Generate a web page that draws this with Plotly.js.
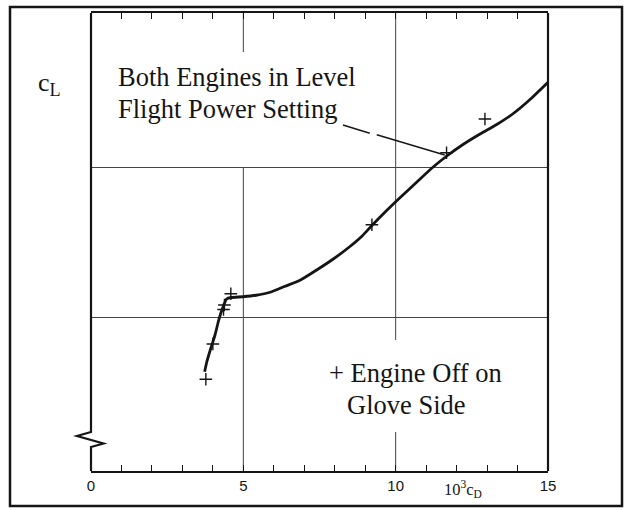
<!DOCTYPE html>
<html>
<head>
<meta charset="utf-8">
<script src="https://cdn.plot.ly/plotly-3.0.1.min.js"></script>
<style>html,body{margin:0;padding:0;background:#fff;}#chart{width:629px;height:510px;}</style>
</head>
<body>
<div id="chart"></div>
<script>
// Curve: Both Engines in Level Flight Power Setting (10^3 cD vs cL)
var cdCurve = [3.73, 3.80, 3.93, 4.07, 4.18, 4.26, 4.34, 4.45, 4.60, 4.99, 5.42, 5.88, 6.37, 6.86, 7.42, 7.94, 8.50, 8.90, 9.22, 9.68, 10.14, 10.67, 11.23, 11.69, 12.21, 12.77, 13.33, 13.85, 14.41, 15.0];
var clCurve = [0.127, 0.140, 0.158, 0.176, 0.194, 0.205, 0.214, 0.224, 0.226, 0.227, 0.229, 0.233, 0.241, 0.249, 0.263, 0.277, 0.294, 0.308, 0.322, 0.341, 0.359, 0.379, 0.400, 0.415, 0.430, 0.444, 0.457, 0.471, 0.490, 0.513];
// Points: Engine Off on Glove Side
var cdOff = [3.77, 4.00, 4.35, 4.38, 4.59, 9.22, 11.67, 12.93];
var clOff = [0.117, 0.164, 0.210, 0.216, 0.231, 0.323, 0.419, 0.464];
// Axis ticks
var xTickVals = [0, 5, 10, 15];
var xTickText = ['0', '5', '10', '15'];
var xMinorStep = 1;
var yGridVals = [0.2, 0.4];

var W = 629, H = 510;
var L = 91, R = 548, T = 13, B = 471;
function px(x){ return (x - L) / (R - L); }
function py(y){ return (B - y) / (B - T); }
var yMin = -0.00533, yMax = 0.60533;
function dy(pyv){ return yMax - (pyv - T) / (B - T) * (yMax - yMin); }

var ink = '#151515';
var serif = 'Liberation Serif, Times New Roman, serif';
var sans = 'Liberation Sans, Arial, sans-serif';

var traces = [
  {x: cdCurve, y: clCurve, mode: 'lines', type: 'scatter',
   line: {color: ink, width: 2.8, shape: 'spline', smoothing: 0.6}, hoverinfo: 'skip', cliponaxis: false},
  {x: cdOff, y: clOff, mode: 'markers', type: 'scatter',
   marker: {symbol: 'cross-thin', size: 9, line: {color: ink, width: 1.4}}, hoverinfo: 'skip', cliponaxis: false}
];

var shapes = [
  // outer frame
  {type: 'rect', xref: 'paper', yref: 'paper', x0: px(10), x1: px(622), y0: py(506), y1: py(7),
   line: {color: ink, width: 2.5}, layer: 'above'},
  // left axis with break
  {type: 'path', xref: 'paper', yref: 'paper',
   path: 'M 0 1 L 0 ' + py(432) + ' L ' + px(77) + ' ' + py(436) + ' L ' + px(103.5) + ' ' + py(443.5) +
         ' L 0 ' + py(447) + ' L 0 0',
   line: {color: ink, width: 2.2}, layer: 'above'},
  // right axis
  {type: 'line', xref: 'paper', yref: 'paper', x0: 1, x1: 1, y0: 0, y1: 1, line: {color: ink, width: 2.2}, layer: 'above'},
  // vertical grid at 5 (broken by text)
  {type: 'line', xref: 'x', yref: 'y', x0: 5, x1: 5, y0: dy(52), y1: yMax, line: {color: '#444', width: 1}, layer: 'below'},
  {type: 'line', xref: 'x', yref: 'y', x0: 5, x1: 5, y0: yMin, y1: dy(167), line: {color: '#444', width: 1}, layer: 'below'},
  // vertical grid at 10 (broken by text)
  {type: 'line', xref: 'x', yref: 'y', x0: 10, x1: 10, y0: dy(340), y1: yMax, line: {color: '#444', width: 1}, layer: 'below'},
  {type: 'line', xref: 'x', yref: 'y', x0: 10, x1: 10, y0: yMin, y1: dy(432), line: {color: '#444', width: 1}, layer: 'below'},
  // leader line (two dashes)
  {type: 'line', xref: 'x', yref: 'y', x0: 8.27, y0: 0.456, x1: 9.15, y1: 0.445, line: {color: ink, width: 1.4}},
  {type: 'line', xref: 'x', yref: 'y', x0: 9.38, y0: 0.443, x1: 11.61, y1: 0.416, line: {color: ink, width: 1.4}}
];

function ann(text, xp, yp, size, fam, xanchor){
  return {text: text, xref: 'paper', yref: 'paper', x: px(xp), y: py(yp), xanchor: xanchor || 'left', yanchor: 'middle',
          showarrow: false, font: {family: fam, size: size, color: ink}};
}
var annotations = [
  ann('Both Engines in Level', 116, 77, 26.5, serif),
  ann('Flight Power Setting', 116, 109, 26.5, serif),
  ann('+ Engine Off on', 327, 373, 26.5, serif),
  ann('Glove Side', 345, 405, 26.5, serif),
  ann('c<sub>L</sub>', 36, 84, 26, serif),
  ann('10<sup>3</sup>c<sub>D</sub>', 463, 489, 16.5, serif, 'center')
];

var layout = {
  width: W, height: H,
  margin: {l: L, r: W - R, t: T, b: H - B, pad: 0},
  paper_bgcolor: '#ffffff', plot_bgcolor: '#ffffff',
  showlegend: false,
  xaxis: {range: [0, 15], tickmode: 'array', tickvals: xTickVals, ticktext: xTickText,
          ticks: 'inside', ticklen: 6, tickwidth: 1.3, tickcolor: ink,
          minor: {dtick: xMinorStep, tick0: 0, ticks: 'inside', ticklen: 6, tickwidth: 1.3, tickcolor: ink, showgrid: false},
          showline: true, linecolor: ink, linewidth: 2.4, mirror: 'allticks',
          showgrid: false, zeroline: false, fixedrange: true,
          tickfont: {family: sans, size: 15, color: ink}},
  yaxis: {range: [yMin, yMax], tickmode: 'array', tickvals: yGridVals, showticklabels: false, ticks: '',
          showgrid: true, gridcolor: '#444', gridwidth: 1, showline: false, zeroline: false, fixedrange: true},
  shapes: shapes,
  annotations: annotations
};

Plotly.newPlot('chart', traces, layout, {displayModeBar: false});
</script>
</body>
</html>
